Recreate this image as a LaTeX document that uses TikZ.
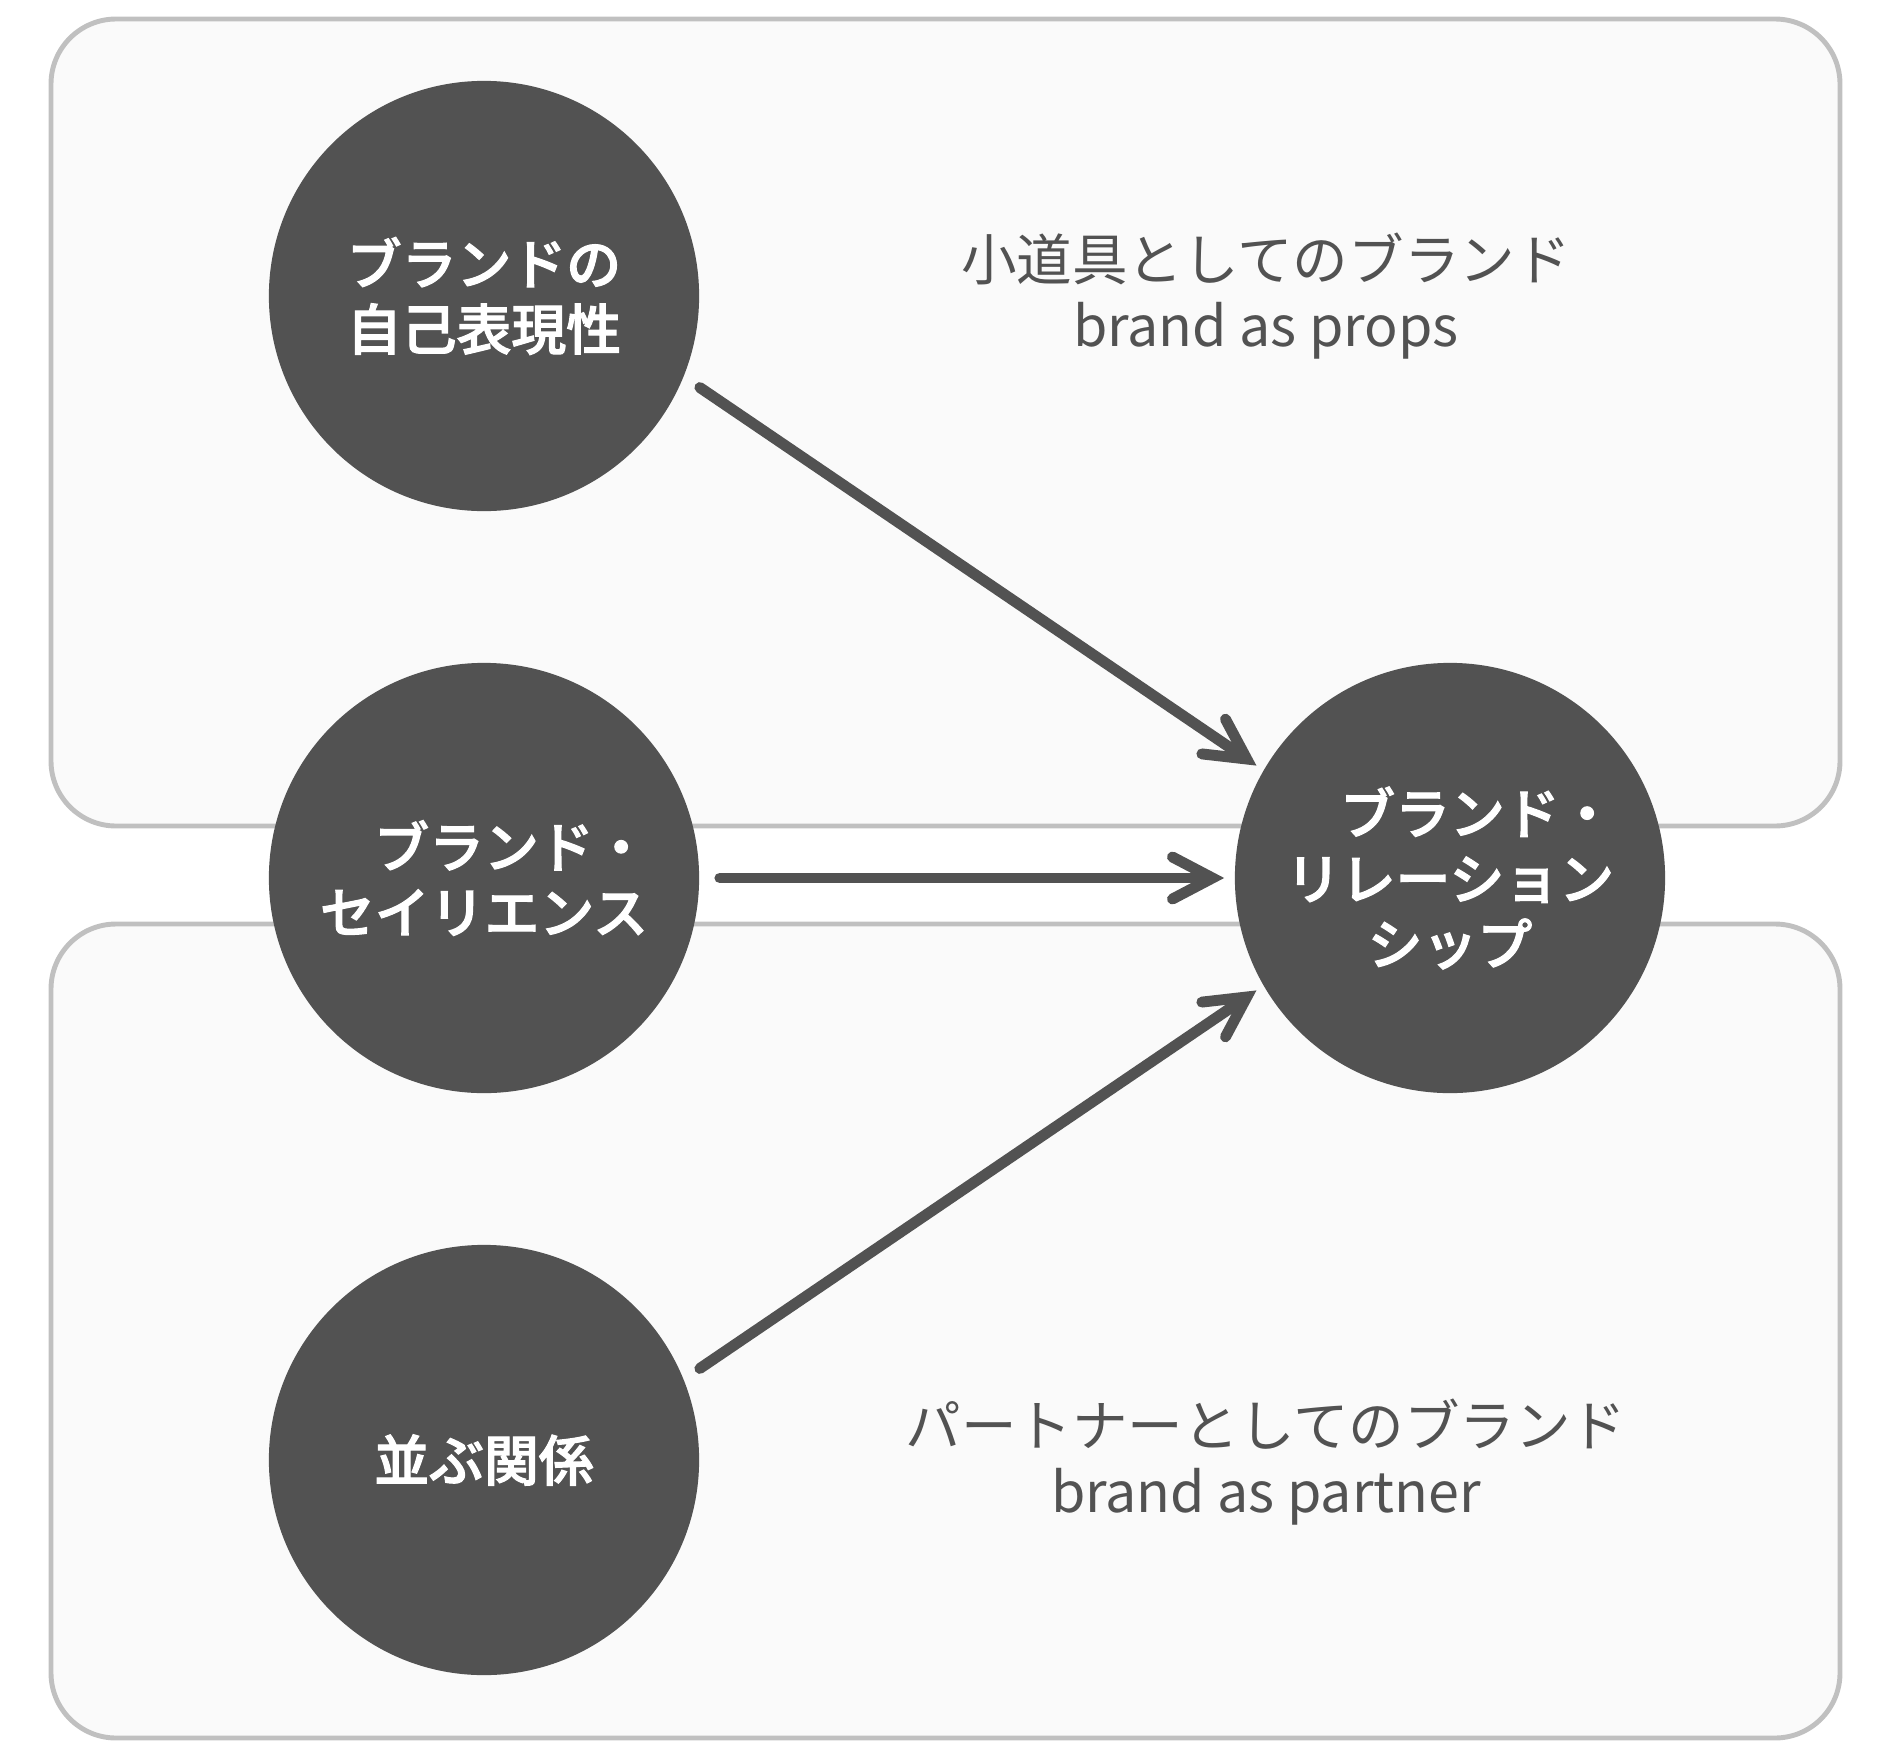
\documentclass[tikz,border=0pt]{standalone}
\usepackage{fontspec}
\setmainfont{Noto Sans CJK JP}[BoldFont={Noto Sans CJK JP Medium}, BoldFeatures={FakeBold=2}]
\usetikzlibrary{arrows.meta}
\definecolor{circgray}{HTML}{525252}
\definecolor{boxfill}{HTML}{FAFAFA}
\definecolor{boxline}{HTML}{C0C0C0}
\begin{document}
\begin{tikzpicture}[x=0.01cm, y=-0.01cm,
    panel/.style={draw=boxline, fill=boxfill, line width=1.4pt, rounded corners=0.65cm},
    bubble/.style={circle, fill=circgray, minimum size=4.3cm, inner sep=0pt, text=white, align=center, font=\fontsize{15.6}{18.6}\selectfont\bfseries},
    caption/.style={text=circgray, align=center, font=\fontsize{15.8}{18.8}\selectfont},
    link/.style={draw=circgray, line width=3.1pt, line cap=round, -{Straight Barb[length=0.4cm, width=0.42cm, line cap=round, line join=miter]}}]
    \useasboundingbox (0,0) rectangle (1890,1760);
    \draw[panel] (51,19) rectangle (1840,826);
    \draw[panel] (51,924) rectangle (1840,1738);
    \node[bubble] (self) at (484,296) {ブランドの\\自己表現性};
    \node[bubble] (sal) at (484,878) {\hspace*{1em}ブランド・\\セイリエンス};
    \node[bubble] (pair) at (484,1460) {並ぶ関係};
    \node[bubble] (rel) at (1450,878) {\hspace*{1em}ブランド・\\リレーション\\シップ};
    \node[caption] (props) at (1266,296) {小道具としてのブランド\\brand as props};
    \node[caption] (partner) at (1266,1462) {パートナーとしてのブランド\\brand as partner};
    \draw[link, shorten <=0.19cm, shorten >=0.08cm] (self.-22.8) -- (rel.150.7);
    \draw[link, shorten <=0.2cm, shorten >=0.1cm] (sal.0) -- (rel.180);
    \draw[link, shorten <=0.19cm, shorten >=0.08cm] (pair.22.5) -- (rel.-150.7);
\end{tikzpicture}
\end{document}
